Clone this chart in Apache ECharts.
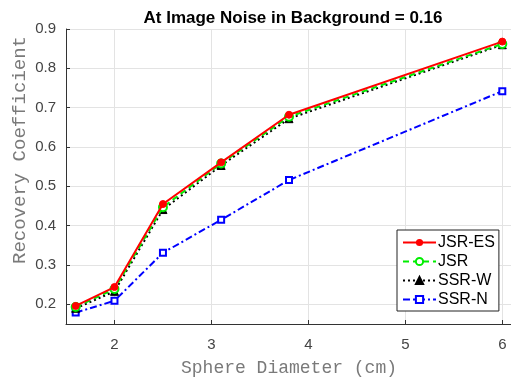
<!DOCTYPE html>
<html><head><meta charset="utf-8">
<script src="https://cdn.jsdelivr.net/npm/echarts@6/dist/echarts.min.js"></script>
<style>html,body{margin:0;padding:0;background:#fff}#c{width:511px;height:379px}</style>
</head><body><div id="c"></div>
<script>
const diameters = [1.6, 2, 2.5, 3.1, 3.8, 6];
const jsrEs = [0.196, 0.244, 0.455, 0.561, 0.682, 0.868];
const jsr   = [0.193, 0.239, 0.447, 0.558, 0.677, 0.862];
const ssrW  = [0.190, 0.233, 0.441, 0.553, 0.672, 0.860];
const ssrN  = [0.179, 0.209, 0.331, 0.415, 0.516, 0.742];
const seriesNames = ['JSR-ES', 'JSR', 'SSR-W', 'SSR-N'];
const xTicks = [2, 3, 4, 5, 6];
const yTicks = [0.2, 0.3, 0.4, 0.5, 0.6, 0.7, 0.8, 0.9];

const pairs = arr => diameters.map((d, i) => [d, arr[i]]);
const chart = echarts.init(document.getElementById('c'));
chart.setOption({
  animation: false,
  title: { text: 'At Image Noise in Background = 0.16', left: 288, top: 5, textAlign: 'center',
    textStyle: { fontFamily: 'Liberation Sans', fontWeight: 'bold', fontSize: 17, color: '#000' } },
  graphic: [{
    type: 'text', x: 20, y: 150, rotation: Math.PI / 2,
    style: { text: 'Recovery Coefficient', fontFamily: 'Liberation Mono', fontSize: 19,
      fill: '#7a7a7a', align: 'center', verticalAlign: 'middle' }
  }],
  grid: { left: 66, top: 29, width: 446, height: 295, containLabel: false, outerBoundsMode: 'none' },
  xAxis: { type: 'value', min: 1.5, max: 6.1, interval: 0.5,
    name: 'Sphere Diameter (cm)', nameLocation: 'middle', nameGap: 35,
    nameTextStyle: { fontFamily: 'Liberation Mono', fontSize: 18, color: '#7a7a7a' },
    axisLine: { lineStyle: { color: '#333' } },
    axisTick: { inside: true, length: 4, lineStyle: { color: '#333' }, customValues: xTicks },
    axisLabel: { fontFamily: 'Liberation Sans', fontSize: 15, color: '#444', margin: 13, customValues: xTicks,
      formatter: v => String(v) },
    splitLine: { show: true, lineStyle: { color: '#e3e3e3' } }
  },
  yAxis: { type: 'value', min: 0.15, max: 0.9, interval: 0.05,
    axisLine: { lineStyle: { color: '#333' } },
    axisTick: { inside: true, length: 4, lineStyle: { color: '#333' }, customValues: yTicks },
    axisLabel: { fontFamily: 'Liberation Sans', fontSize: 15, color: '#444', margin: 10,
      customValues: yTicks, formatter: v => v.toFixed(1) },
    splitLine: { show: true, lineStyle: { color: '#e3e3e3' } }
  },
  legend: {
    orient: 'vertical', left: 397, top: 230,
    backgroundColor: '#fff', borderColor: '#222', borderWidth: 1, borderRadius: 0,
    padding: [4, 4, 3, 5], itemGap: 2, itemWidth: 33, itemHeight: 9,
    textStyle: { fontFamily: 'Liberation Sans', fontSize: 16, lineHeight: 17, color: '#000', padding: [0,0,0,-3] },
    data: seriesNames
  },
  series: [
    { name: seriesNames[3], type: 'line', data: pairs(ssrN), z: 2,
      lineStyle: { color: '#0000ff', width: 2, type: [7, 3, 2, 3] },
      symbol: 'rect', symbolSize: 6,
      itemStyle: { color: '#fff', borderColor: '#0000ff', borderWidth: 2 } },
    { name: seriesNames[2], type: 'line', data: pairs(ssrW), z: 3,
      lineStyle: { color: '#000', width: 2, type: [2, 3] },
      symbol: 'triangle', symbolSize: 8,
      itemStyle: { color: '#000', borderColor: '#000', borderWidth: 1 } },
    { name: seriesNames[1], type: 'line', data: pairs(jsr), z: 4,
      lineStyle: { color: '#00ee00', width: 2, type: [6, 4] },
      symbol: 'circle', symbolSize: 8,
      itemStyle: { color: '#fff', borderColor: '#00ee00', borderWidth: 2 } },
    { name: seriesNames[0], type: 'line', data: pairs(jsrEs), z: 5,
      lineStyle: { color: '#ff0000', width: 2 },
      symbol: 'circle', symbolSize: 7,
      itemStyle: { color: '#ff0000', borderColor: '#ff0000' } }
  ]
});
</script></body></html>
